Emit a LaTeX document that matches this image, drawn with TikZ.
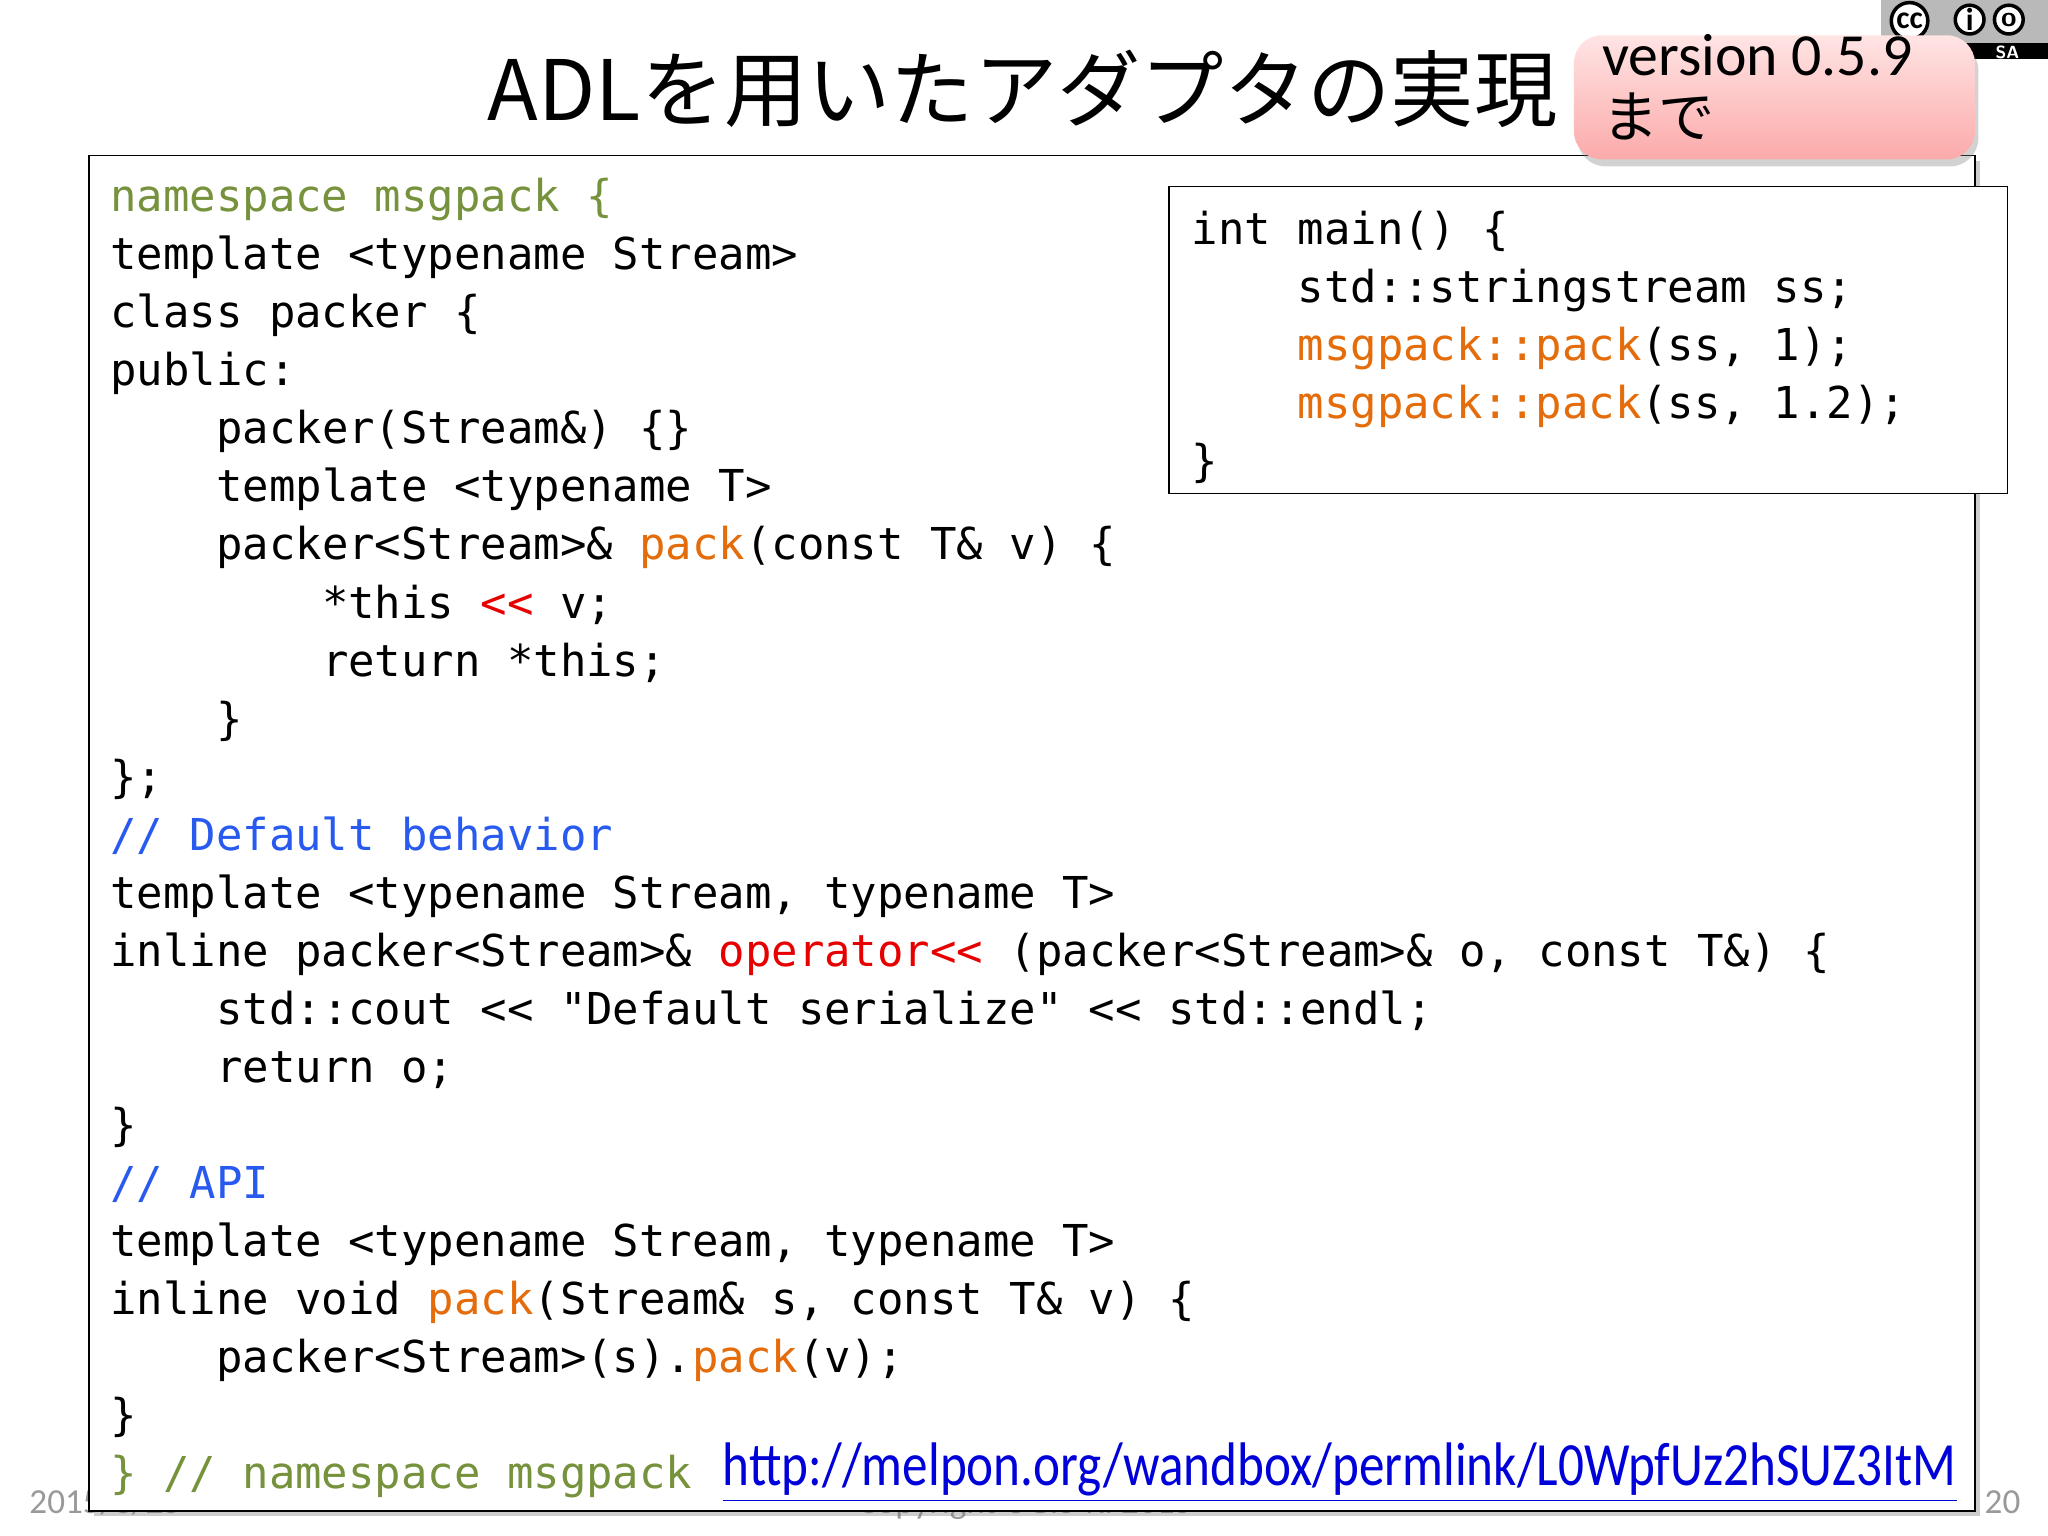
\documentclass[tikz,border=0pt]{standalone}
\usepackage{fontspec}
\usepackage{graphicx}
\setmainfont{Carlito}
\setmonofont{DejaVu Sans Mono}
\newfontfamily\cjk{Noto Sans CJK JP}
\usetikzlibrary{shadows}
\definecolor{cgreen}{RGB}{118,146,60}
\definecolor{corange}{RGB}{228,108,10}
\definecolor{cred}{RGB}{230,0,0}
\definecolor{cblue}{RGB}{40,90,240}
\definecolor{pinktop}{RGB}{255,228,228}
\definecolor{pinkbot}{RGB}{252,170,170}
\newcommand{\G}[1]{\textcolor{cgreen}{#1}}
\newcommand{\Or}[1]{\textcolor{corange}{#1}}
\newcommand{\R}[1]{\textcolor{cred}{#1}}
\newcommand{\B}[1]{\textcolor{cblue}{#1}}
\tikzset{
  code/.style={anchor=base west, inner sep=0pt, font=\fontsize{12.5}{14}\ttfamily},
  foot/.style={anchor=base west, inner sep=0pt, font=\fontsize{10}{12}\selectfont, text=gray!80},
}
\begin{document}
\begin{tikzpicture}[x=0.013061cm,y=-0.013061cm]
\useasboundingbox (0,0) rectangle (1568,1176);
\fill[white] (0,0) rectangle (1568,1176);
% footer
\node[foot] (date) at (22,1159) {2015/3/25};
\node[foot, anchor=base] (copy) at (785,1159) {Copyright OGIS-RI 2015};
\node[foot] (page) at (1519,1159) {20};
% main box
\draw[fill=white, drop shadow={shadow xshift=1.5pt, shadow yshift=-1.5pt, opacity=0.4}] (68,119) rectangle (1512,1157);
% title
\node[anchor=base west, inner sep=0pt, font=\cjk\fontsize{23.7}{28}\selectfont] (title) at (373,92) {ADLを用いたアダプタの実現};
% cc logo
\fill[gray!55] (1440,0) rectangle (1568,45);
\fill[black] (1440,33) rectangle (1568,45);
\draw[black, line width=1pt, fill=white] (1462,16) circle (14);
\node[font=\bfseries\fontsize{9}{9}\selectfont, inner sep=0pt] (cc) at (1462,16) {cc};
\draw[black, fill=white, line width=1pt] (1508,15) circle (11);
\node[font=\bfseries\fontsize{9}{9}\selectfont, inner sep=0pt] (by) at (1508,15) {i};
\draw[black, fill=white, line width=1pt] (1538,15) circle (11);
\node[font=\bfseries\fontsize{8}{8}\selectfont, inner sep=0pt] (sa) at (1538,15) {\textsf{o}};
\node[text=white, font=\sffamily\bfseries\fontsize{5}{5}\selectfont, inner sep=0pt] (satext) at (1537,40) {SA};
% version badge
\shade[top color=pinktop, bottom color=pinkbot, rounded corners=8pt,
  drop shadow={shadow xshift=1pt, shadow yshift=-2pt, opacity=0.35}] (1205,27) rectangle (1512,122);
\node[anchor=base west, inner sep=0pt, font=\fontsize{17}{20}\selectfont] (ver) at (1226,58) {version 0.5.9};
\node[anchor=base west, inner sep=0pt, font=\cjk\fontsize{16}{20}\selectfont] (made) at (1226,105) {まで};
% main code
\node[code] (l1) at (84,162) {\G{namespace msgpack \{}};
\node[code] (l2) at (84,206.5) {template <typename Stream>};
\node[code] (l3) at (84,251) {class packer \{};
\node[code] (l4) at (84,295.3) {public:};
\node[code] (l5) at (165,339.8) {packer(Stream\&) \{\}};
\node[code] (l6) at (165,384.3) {template <typename T>};
\node[code] (l7) at (165,428.7) {packer<Stream>\& \Or{pack}(const T\& v) \{};
\node[code] (l8) at (246,473.2) {*this \R{<<} v;};
\node[code] (l9) at (246,517.6) {return *this;};
\node[code] (l10) at (165,562) {\}};
\node[code] (l11) at (84,606.5) {\};};
\node[code] (l12) at (84,651) {\B{// Default behavior}};
\node[code] (l13) at (84,695.4) {template <typename Stream, typename T>};
\node[code] (l14) at (84,739.9) {inline packer<Stream>\& \R{operator<<} (packer<Stream>\& o, const T\&) \{};
\node[code] (l15) at (165,784.3) {std::cout << "Default serialize" << std::endl;};
\node[code] (l16) at (165,828.8) {return o;};
\node[code] (l17) at (84,873.2) {\}};
\node[code] (l18) at (84,917.7) {\B{// API}};
\node[code] (l19) at (84,962.1) {template <typename Stream, typename T>};
\node[code] (l20) at (84,1006.6) {inline void \Or{pack}(Stream\& s, const T\& v) \{};
\node[code] (l21) at (165,1051) {packer<Stream>(s).\Or{pack}(v);};
\node[code] (l22) at (84,1095.5) {\}};
\node[code] (l23) at (84,1140) {\G{\} // namespace msgpack}};
\node[anchor=base west, inner sep=0pt, font=\fontsize{17.5}{20}\selectfont, text=blue!85!black] (url) at (553,1137) {\scalebox{0.832}[1]{\underline{http://melpon.org/wandbox/permlink/L0WpfUz2hSUZ3ItM}}};
% right box
\draw[fill=white] (895,143) rectangle (1537,378);
\node[code] (r1) at (912,187) {int main() \{};
\node[code] (r2) at (993,231.4) {std::stringstream ss;};
\node[code] (r3) at (993,275.8) {\Or{msgpack::pack}(ss, 1);};
\node[code] (r4) at (993,320.2) {\Or{msgpack::pack}(ss, 1.2);};
\node[code] (r5) at (912,364.6) {\}};
\end{tikzpicture}
\end{document}
